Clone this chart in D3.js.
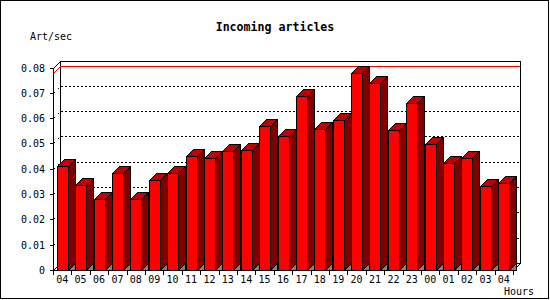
<!DOCTYPE html>
<html lang="en">
<head>
    <meta charset="utf-8">
    <title>Incoming articles</title>
    <script type="text/javascript" src="https://cdn.jsdelivr.net/npm/d3@7"></script>
    <style>
        body { margin: 0; background: #fff; }
        text { font-family: "DejaVu Sans Mono", monospace; fill: #000; }
    </style>
</head>
<body>
    <div id="chart"></div>

    <script type="text/javascript">

            var hours = ["04", "05", "06", "07", "08", "09", "10", "11", "12", "13", "14", "15", "16",
                         "17", "18", "19", "20", "21", "22", "23", "00", "01", "02", "03", "04"];
            var artPerSec = [0.0409, 0.0337, 0.0282, 0.0385, 0.0282, 0.0357, 0.0385, 0.0452, 0.0444,
                             0.0471, 0.0475, 0.0570, 0.0530, 0.0688, 0.0558, 0.0593, 0.0778, 0.0739,
                             0.0554, 0.0660, 0.0499, 0.0424, 0.0444, 0.0330, 0.0345];
            var yTicks = [0, 0.01, 0.02, 0.03, 0.04, 0.05, 0.06, 0.07, 0.08];
            var yTickLabels = ["0", "0.01", "0.02", "0.03", "0.04", "0.05", "0.06", "0.07", "0.08"];

            var w = 550;
            var h = 300;
            var depth = 7;     // 3d offset
            var barW = 11;

            var xScale = d3.scaleBand()
                .domain(d3.range(hours.length)).range([53, 513]);
            var yScale = d3.scaleLinear()
                .domain([0, 0.08]).range([270, 67.5]);

            function px(v) { return Math.round(v) + 0.5; }

            var svg = d3.select("#chart")
                .append("svg")
                .attr("width", w)
                .attr("height", h)
                .style("display", "block")
                .attr("shape-rendering", "crispEdges");

            svg.append("rect")
                .attr("x", 0.5).attr("y", 0.5)
                .attr("width", 548).attr("height", 297.5)
                .attr("fill", "#fff").attr("stroke", "#000");

            var x0 = xScale.range()[0], x1 = xScale.range()[1];
            var yBase = yScale(0), yTop = yScale(0.08);

            function line(g, pts, stroke, dash) {
                g.append("path")
                    .attr("d", d3.line()(pts.map(function(p) { return [px(p[0]), px(p[1])]; })))
                    .attr("fill", "none")
                    .attr("stroke", stroke || "#000")
                    .attr("stroke-dasharray", dash || null);
            }

            // back wall + left wall
            var back = svg.append("g");
            yTicks.slice(1, -1).forEach(function(t) {
                line(back, [[x0 + depth, yScale(t) - depth], [x1 + depth, yScale(t) - depth]], "#000", "2,2");
                line(back, [[x0, yScale(t)], [x0 + depth, yScale(t) - depth]], "#000", "2,4");
            });
            line(back, [[x0, yTop], [x0 + depth, yTop - depth], [x1 + depth, yTop - depth],
                        [x1 + depth, yBase - depth], [x1, yBase]]);
            line(back, [[x0 + depth, yTop - depth], [x0 + depth, yBase - depth], [x1 + depth, yBase - depth]]);
            line(back, [[x0, yBase], [x0 + depth, yBase - depth]]);

            // max line
            var yMax = yScale(d3.max(artPerSec));
            line(back, [[x0, yMax], [x0 + depth, yMax - depth], [x1 + depth - 1, yMax - depth]], "#ff0000");

            // bars
            var bars = svg.selectAll("g.bar")
                .data(artPerSec)
                .enter()
                .append("g")
                .attr("class", "bar");

            function poly(sel, fill, fn) {
                sel.append("path")
                    .attr("fill", fill)
                    .attr("stroke", "#000")
                    .attr("d", function(d, i) {
                        return "M" + fn(d, i).map(function(p) { return px(p[0]) + "," + px(p[1]); }).join("L") + "Z";
                    });
            }
            function fx(i) { return xScale(i) + (xScale.bandwidth() - barW) / 2; }

            poly(bars, "#808080", function(d, i) {
                var r = fx(i) + barW;
                return [[r, yBase], [r + depth, yBase - depth], [r + depth, yBase]];
            });
            poly(bars, "#800000", function(d, i) {
                var r = fx(i) + barW, t = yScale(d);
                return [[r, yBase], [r, t], [r + depth, t - depth], [r + depth, yBase - depth]];
            });
            poly(bars, "#c00000", function(d, i) {
                var l = fx(i), t = yScale(d);
                return [[l, t], [l + depth, t - depth], [l + barW + depth, t - depth], [l + barW, t]];
            });
            poly(bars, "#ff0000", function(d, i) {
                var l = fx(i), t = yScale(d);
                return [[l, t], [l + barW, t], [l + barW, yBase], [l, yBase]];
            });

            // front axes
            var axes = svg.append("g");
            line(axes, [[x0, yTop], [x0, yBase], [x1, yBase]]);
            yTicks.forEach(function(t) {
                line(axes, [[x0 - 4, yScale(t)], [x0, yScale(t)]]);
            });
            d3.range(hours.length + 1).forEach(function(i) {
                var xx = x0 + i * xScale.step();
                line(axes, [[xx, yBase], [xx, yBase + 4]]);
            });

            svg.selectAll("text.ylab")
                .data(yTicks)
                .enter()
                .append("text")
                .attr("class", "ylab")
                .attr("x", 45)
                .attr("y", function(d) { return yScale(d) + 4; })
                .attr("text-anchor", "end")
                .style("font-size", "10px")
                .text(function(d, i) { return yTickLabels[i]; });

            svg.selectAll("text.xlab")
                .data(hours)
                .enter()
                .append("text")
                .attr("class", "xlab")
                .attr("x", function(d, i) { return xScale(i) + xScale.bandwidth() / 2; })
                .attr("y", 283)
                .attr("text-anchor", "middle")
                .style("font-size", "10px")
                .text(function(d) { return d; });

            svg.append("text")
                .attr("x", 275).attr("y", 31)
                .attr("text-anchor", "middle")
                .style("font-size", "11.6px")
                .style("font-weight", "bold")
                .text("Incoming articles");

            svg.append("text")
                .attr("x", 30).attr("y", 40)
                .style("font-size", "10px")
                .text("Art/sec");

            svg.append("text")
                .attr("x", 504).attr("y", 295)
                .style("font-size", "10px")
                .text("Hours");

        </script>
    </body>
</html>
